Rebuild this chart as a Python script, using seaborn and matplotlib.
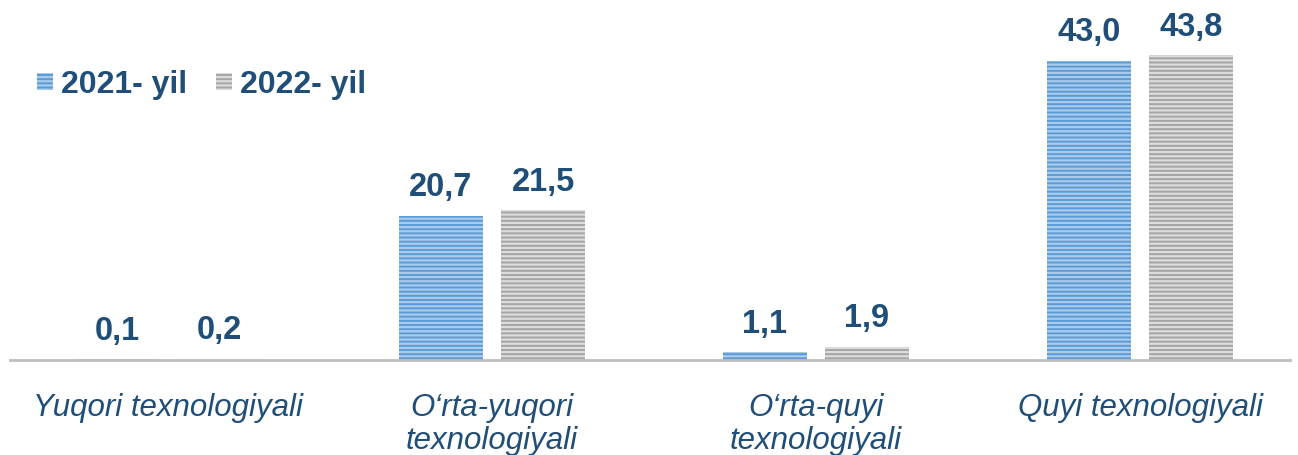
import pandas as pd
import matplotlib.pyplot as plt
import seaborn as sns

# chart values
categories = ['Yuqori texnologiyali', 'O\u2018rta-yuqori\ntexnologiyali',
              'O\u2018rta-quyi\ntexnologiyali', 'Quyi texnologiyali']
years = ['2021- yil', '2022- yil']
values_2021 = [0.1, 20.7, 1.1, 43.0]
values_2022 = [0.2, 21.5, 1.9, 43.8]

df = pd.DataFrame({
    'category': categories * 2,
    'year': [years[0]] * 4 + [years[1]] * 4,
    'value': values_2021 + values_2022,
})

sns.set_style('white')
plt.rcParams['font.family'] = ['Liberation Sans', 'DejaVu Sans']
plt.rcParams['hatch.linewidth'] = 1.6

text_color = '#1F4E79'
face_colors = ['#5B9BD5', '#A5A5A5']
stripe_colors = ['#A9CBEB', '#DCDCDC']

fig = plt.figure(figsize=(12.98, 4.55), dpi=100)
ax = fig.add_axes([6 / 1298, 95 / 455, 1296 / 1298, 360 / 455])

sns.barplot(data=df, x='category', y='value', hue='year', order=categories,
            hue_order=years, palette=face_colors, width=0.63, gap=0.176,
            ax=ax, legend=False)

# striped bars + value labels with decimal comma
for cont, fc, sc in zip(ax.containers, face_colors, stripe_colors):
    for p in cont:
        p.set_facecolor(fc)
        p.set_edgecolor(sc)
        p.set_linewidth(0)
        p.set_hatch('----')
    ax.bar_label(cont, labels=[f'{v:.1f}'.replace('.', ',') for v in cont.datavalues],
                 padding=9, fontsize=23.5, fontweight='bold', color=text_color)

ax.set_ylim(0, 51.7)
ax.set_xlim(-0.5, 3.5)
ax.set_xlabel('')
ax.set_ylabel('')
ax.set_yticks([])
for s in ['top', 'left', 'right']:
    ax.spines[s].set_visible(False)
ax.spines['bottom'].set_color('#BFBFBF')
ax.spines['bottom'].set_linewidth(2)
ax.spines['bottom'].set_bounds(-0.488, 3.463)

ax.tick_params(axis='x', length=0, pad=24)
for lbl in ax.get_xticklabels():
    lbl.set_fontsize(22.5)
    lbl.set_fontstyle('italic')
    lbl.set_color(text_color)
    lbl.set_linespacing(1.1)
    lbl.set_verticalalignment('top')

leg = ax.legend(handles=list(ax.containers), labels=years, loc='center left',
                bbox_to_anchor=(21 / 1298, 1 - 85 / 455), bbox_transform=fig.transFigure,
                ncol=2, frameon=False, handlelength=0.5, handleheight=0.45,
                handletextpad=0.25, columnspacing=0.9, borderpad=0,
                prop={'size': 23, 'weight': 'bold'})
for t in leg.get_texts():
    t.set_color(text_color)

fig.savefig('out.png', dpi=100)
